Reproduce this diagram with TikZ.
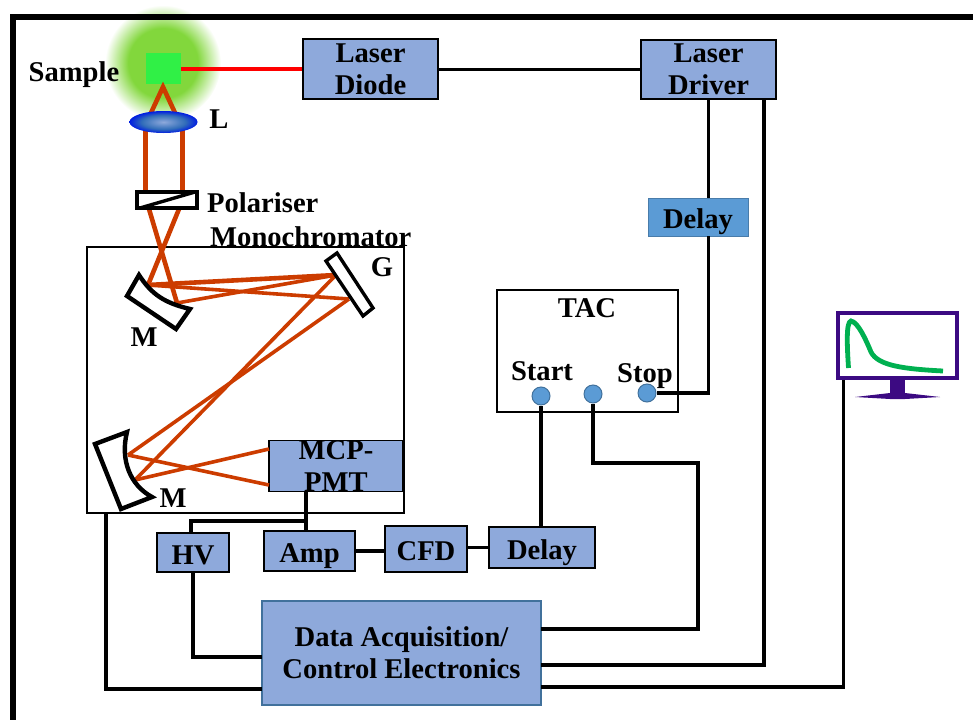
\documentclass[tikz,border=0pt]{standalone}
\usepackage{fontspec}
\setmainfont{Liberation Serif}
\usetikzlibrary{calc,shapes.geometric}
\definecolor{BoxBlue}{RGB}{142,169,219}
\definecolor{PortBlue}{RGB}{91,155,213}
\definecolor{EdgeBlue}{RGB}{65,113,156}
\definecolor{BeamRed}{RGB}{204,60,0}
\definecolor{GlowGreen}{RGB}{130,215,60}
\definecolor{SampleGreen}{RGB}{48,240,70}
\definecolor{ScreenPurple}{RGB}{60,10,130}
\definecolor{TraceGreen}{RGB}{0,176,80}
\definecolor{LensMid}{RGB}{50,110,185}
\definecolor{LensEdge}{RGB}{0,30,225}
\pgfdeclareradialshading{glow}{\pgfpointorigin}{color(0bp)=(GlowGreen); color(15bp)=(GlowGreen); color(25bp)=(white); color(50bp)=(white)}
\pgfdeclareradialshading{lensglass}{\pgfpointorigin}{color(0bp)=(BoxBlue); color(16bp)=(LensMid); color(25bp)=(LensEdge); color(50bp)=(LensEdge)}
\tikzset{
  txt/.style={font=\fontsize{28.6}{32}\selectfont\bfseries,align=center,inner sep=0pt,text depth=0pt,
    execute at begin node=\rule{0pt}{23pt}},
  box/.style={txt,draw=black,fill=BoxBlue,line width=1.8pt,minimum width=#1},
  box/.default=135pt,
  delaybox/.style={txt,fill=PortBlue,draw=PortBlue!80!black,line width=0.6pt,minimum width=100pt,minimum height=38pt},
  bigbox/.style={txt,fill=BoxBlue,draw=EdgeBlue,line width=1.5pt,minimum width=279pt,minimum height=104pt},
  panel/.style={draw=black,line width=2.2pt,inner sep=0pt},
  port/.style={circle,fill=PortBlue,draw=EdgeBlue,line width=1pt,minimum size=18pt,inner sep=0pt},
  wire/.style={draw=black,line width=3pt},
  thickwire/.style={draw=black,line width=3.8pt},
  beam/.style={draw=BeamRed,line width=4.6pt},
  thinbeam/.style={draw=BeamRed,line width=3.6pt},
  optic/.style={draw=black,fill=white,line width=4.4pt,line join=miter}
}
\begin{document}
\begin{tikzpicture}[x=1pt,y=-1pt]
  \useasboundingbox (0,0) rectangle (973,720);
  \shade[shading=glow] (163,63) circle (58);
  \draw[black,line width=5.5pt] (973,17) -- (13,17) -- (13,720);

  \node[panel,minimum width=317pt,minimum height=266pt] (mono) at (245.5,380) {};
  \node[panel,minimum width=181pt,minimum height=122pt] (tac) at (587.5,351) {};
  \node[box,minimum height=60pt] (diode) at (370.5,69) {Laser\\Diode};
  \node[box,minimum height=59pt] (driver) at (708.5,69.5) {Laser\\Driver};
  \node[delaybox] (delaya) at (698,217) {Delay};
  \node[box=134pt,minimum height=50pt] (pmt) at (336,466) {MCP-\\PMT};
  \node[box=72pt,minimum height=39pt] (hv) at (193,552.5) {HV};
  \node[box=91pt,minimum height=40pt] (amp) at (309.5,551) {Amp};
  \node[box=82pt,minimum height=46pt] (cfd) at (426,549) {CFD};
  \node[box=106pt,minimum height=41pt] (delayb) at (542,547.5) {Delay};
  \node[bigbox] (daq) at (401.5,653) {Data Acquisition/\\Control Electronics};
  \node[port] (start) at (541,396) {};
  \node[port] (sync) at (593,394) {};
  \node[port] (stop) at (647,393) {};
  \node[draw=ScreenPurple,line width=3.4pt,minimum width=119pt,minimum height=65pt,inner sep=0pt] (screen) at (897.5,345.5) {};
  \node[fill=SampleGreen,minimum width=35pt,minimum height=31pt,inner sep=0pt] (sample) at (163.5,68.5) {};

  \coordinate (apex) at (163,87);
  \coordinate (mtopa) at (148,285);
  \coordinate (mtopb) at (177,303);
  \coordinate (ga) at (336,275);
  \coordinate (gb) at (349,299);
  \coordinate (mlowa) at (128,455);
  \coordinate (mlowb) at (135,480);
  \coordinate (pmta) at (269,449);
  \coordinate (pmtb) at (269,485);
  \coordinate (dqa) at (541,629);
  \coordinate (dqb) at (541,665);
  \coordinate (dqc) at (541,687);
  \coordinate (dqd) at (262,657);
  \coordinate (dqe) at (262,689);
  \coordinate (hvtop) at (191,533);
  \coordinate (pmtout) at (306,491);
  \coordinate (ampin) at (306,531);

  \draw[beam] (150,115) -- (apex) -- (176,115);
  \draw[beam] (145.5,130) -- (145.5,192);
  \draw[beam] (182.5,130) -- (182.5,192);
  \draw[beam] (149,209) -- (mtopb);
  \draw[beam] (179,209) -- (mtopa);
  \draw[beam] (mtopa) -- (ga);
  \draw[thinbeam] (mtopa) -- (gb);
  \draw[thinbeam] (mtopb) -- (ga);
  \draw[thinbeam] (ga) -- (mlowb);
  \draw[thinbeam] (gb) -- (mlowa);
  \draw[thinbeam] (mlowa) -- (pmtb);
  \draw[thinbeam] (mlowb) -- (pmta);

  \node[ellipse,shading=lensglass,minimum width=68pt,minimum height=22pt,inner sep=0pt] (lens) at (163.5,122) {};
  \node[draw=black,fill=white,line width=4pt,minimum width=60pt,minimum height=16pt,inner sep=0pt] (pol) at (167,200) {};
  \draw[black,line width=3.4pt] (140,208) -- (195,192);
  \draw[optic] (139,275) -- (127,296) -- (176,329) -- (190,309) .. controls (165,303) and (152,295) .. cycle;
  \draw[optic,line width=3.4pt] (337,253) -- (326,261) -- (363,316) -- (373,308) -- cycle;
  \draw[optic] (95,444) -- (127,432) .. controls (120,460) and (130,485) .. (152,497) -- (121,509) -- cycle;

  \draw[red,line width=4pt] (sample.east) -- (sample.east -| diode.west);
  \draw[wire] (diode.east) -- (diode.east -| driver.west);
  \draw[thickwire] (driver.south) -- (driver.south |- delaya.north);
  \draw[thickwire] (driver.south |- delaya.south) |- (stop.east);
  \draw[thickwire] ([xshift=55.5pt]driver.south) |- (dqb);
  \draw[thickwire] (delayb.north -| start.south) -- (start.south);
  \draw[thickwire] (sync.south) |- (698,463) |- (dqa);
  \draw[thickwire] ([xshift=-54pt]screen.south) |- (dqc);
  \draw[thickwire] (106,513) |- (dqe);
  \draw[thickwire] (hv.south) |- (dqd);
  \draw[thickwire] (hvtop) |- (306,521);
  \draw[thickwire] (pmtout) -- (ampin);
  \draw[thickwire] (amp.east) -- (cfd.west |- amp.east);
  \draw[thickwire] (cfd.east |- delayb.west) -- (delayb.west);

  \fill[ScreenPurple] (890,380) rectangle (905,393);
  \fill[ScreenPurple] (855,397) -- (890,393) -- (905,393) -- (940,397) -- (905,399) -- (890,399) -- cycle;
  \draw[TraceGreen,line width=4.8pt] (848.5,368) .. controls (847,345) and (846,322) .. (851,321) .. controls (858,322) and (866,340) .. (871,352) .. controls (878,366) and (905,369) .. (943,371);

  \node[txt] (samplelabel) at (74,69.5) {Sample};
  \node[txt] (lenslabel) at (219,116.5) {L};
  \node[txt,anchor=west] (pollabel) at (207,200.5) {Polariser};
  \node[txt,anchor=west] (monolabel) at (210,235) {Monochromator};
  \node[txt] (glabel) at (382,264.5) {G};
  \node[txt] (mlabela) at (144,334.5) {M};
  \node[txt] (mlabelb) at (173,495.5) {M};
  \node[txt] (taclabel) at (587,306) {TAC};
  \node[txt] (startlabel) at (542,368.5) {Start};
  \node[txt] (stoplabel) at (645,370.5) {Stop};
\end{tikzpicture}
\end{document}
